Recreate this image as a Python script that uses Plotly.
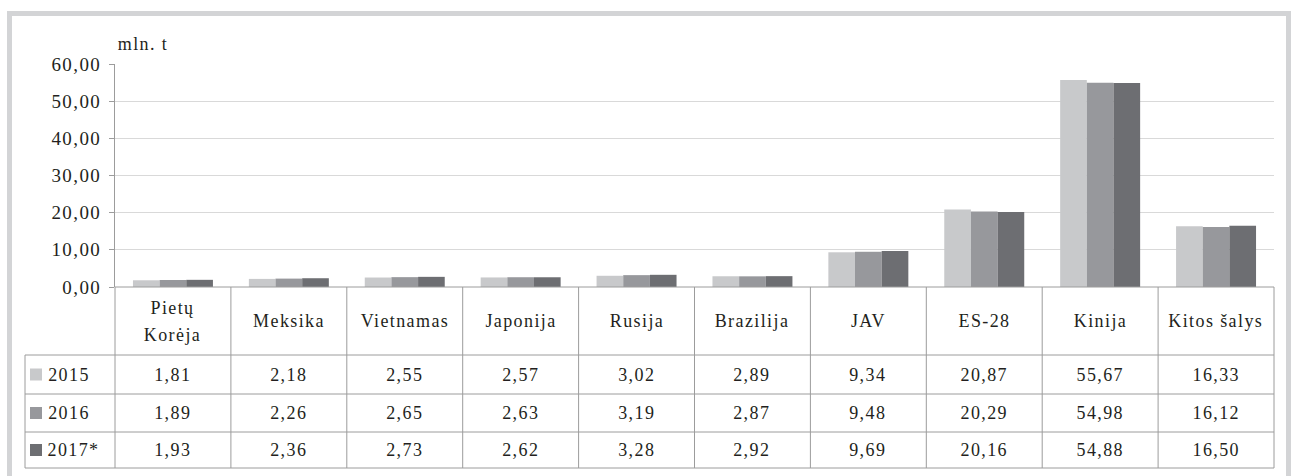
import plotly.graph_objects as go

categories = ["Pietų Korėja", "Meksika", "Vietnamas", "Japonija", "Rusija",
              "Brazilija", "JAV", "ES-28", "Kinija", "Kitos šalys"]
header_lines = [["Pietų", "Korėja"], ["Meksika"], ["Vietnamas"], ["Japonija"], ["Rusija"],
                ["Brazilija"], ["JAV"], ["ES-28"], ["Kinija"], ["Kitos šalys"]]
series_names = ["2015", "2016", "2017*"]
v2015 = [1.81, 2.18, 2.55, 2.57, 3.02, 2.89, 9.34, 20.87, 55.67, 16.33]
v2016 = [1.89, 2.26, 2.65, 2.63, 3.19, 2.87, 9.48, 20.29, 54.98, 16.12]
v2017 = [1.93, 2.36, 2.73, 2.62, 3.28, 2.92, 9.69, 20.16, 54.88, 16.50]
colors = ["#c8c9cb", "#97989c", "#6d6e72"]
y_ticks = [0, 10, 20, 30, 40, 50, 60]

W, H = 1291, 476
L, R, T, B = 115, 1274, 64, 287
FONT = "'Liberation Serif', 'Times New Roman', Times, serif"
TXT = "#231f20"
LINE = "#9c9c9c"


def py(p):
    return (B - p) / (B - T)


def px(p):
    return (p - L) / (R - L)


def fmt(v):
    return f"{v:.2f}".replace(".", ",")


fig = go.Figure()
for name, vals, col in zip(series_names, [v2015, v2016, v2017], colors):
    fig.add_trace(go.Bar(x=categories, y=vals, name=name, marker_color=col,
                         marker_line_width=0, showlegend=False))

shapes = []
annotations = []

# outer frame
shapes.append(dict(type="rect", xref="paper", yref="paper",
                   x0=px(9.5), x1=px(1288.5), y0=py(13.5), y1=py(500),
                   line=dict(color="#d3d4d6", width=5), fillcolor="rgba(0,0,0,0)",
                   layer="below"))

row_edges = [287, 355, 394, 432, 468]
legend_left = 25
col_w = (R - L) / 10

for i in range(11):
    xp = L + i * col_w
    shapes.append(dict(type="line", xref="paper", yref="paper",
                       x0=px(xp), x1=px(xp), y0=py(row_edges[0]), y1=py(row_edges[-1]),
                       line=dict(color=LINE, width=1)))
shapes.append(dict(type="line", xref="paper", yref="paper",
                   x0=px(legend_left), x1=px(legend_left), y0=py(row_edges[1]), y1=py(row_edges[-1]),
                   line=dict(color=LINE, width=1)))
shapes.append(dict(type="line", xref="paper", yref="paper",
                   x0=px(L), x1=px(R), y0=py(row_edges[0]), y1=py(row_edges[0]),
                   line=dict(color=LINE, width=1)))
for r in row_edges[1:]:
    shapes.append(dict(type="line", xref="paper", yref="paper",
                       x0=px(legend_left), x1=px(R), y0=py(r), y1=py(r),
                       line=dict(color=LINE, width=1)))

head_mid = (row_edges[0] + row_edges[1]) / 2
line_gap = 27
for cat, lines in zip(categories, header_lines):
    n = len(lines)
    for k, txt in enumerate(lines):
        yc = head_mid + (k - (n - 1) / 2) * line_gap
        annotations.append(dict(x=cat, xref="x", y=py(yc), yref="paper",
                                text=txt, showarrow=False, xanchor="center", yanchor="middle",
                                font=dict(family=FONT, size=18, color=TXT)))

for ri, (name, vals, col) in enumerate(zip(series_names, [v2015, v2016, v2017], colors)):
    top, bot = row_edges[ri + 1], row_edges[ri + 2]
    cy = (top + bot) / 2
    for cat, v in zip(categories, vals):
        annotations.append(dict(x=cat, xref="x", y=py(cy), yref="paper", text=fmt(v),
                                showarrow=False, xanchor="center", yanchor="middle",
                                font=dict(family=FONT, size=18, color=TXT)))
    shapes.append(dict(type="rect", xref="paper", yref="paper",
                       x0=px(30), x1=px(42), y0=py(cy + 6), y1=py(cy - 6),
                       fillcolor=col, line=dict(width=0)))
    annotations.append(dict(x=px(49), xref="paper", y=py(cy), yref="paper", text=name,
                            showarrow=False, xanchor="left", yanchor="middle",
                            font=dict(family=FONT, size=18, color=TXT)))

annotations.append(dict(x=px(120), xref="paper", y=py(44), yref="paper", text="mln. t",
                        showarrow=False, xanchor="left", yanchor="middle",
                        font=dict(family=FONT, size=18, color=TXT)))

fig.update_layout(
    width=W, height=H,
    margin=dict(l=L, r=W - R, t=T, b=H - B, pad=0),
    paper_bgcolor="white", plot_bgcolor="white",
    barmode="group", bargap=0.31, bargroupgap=0,
    separators=", ",
    shapes=shapes, annotations=annotations,
    xaxis=dict(showticklabels=False, showgrid=False, zeroline=False, ticks="",
               showline=False, range=[-0.5, 9.5]),
    yaxis=dict(range=[0, 60], tickvals=y_ticks, tickformat=".2f",
               showgrid=True, gridcolor="#d9d9d9", gridwidth=1, zeroline=False,
               showline=True, linecolor=LINE, linewidth=1,
               ticks="outside", ticklen=5, tickcolor=LINE,
               ticklabelstandoff=4,
               tickfont=dict(family=FONT, size=19, color=TXT)),
)

post = (
    "document.body.style.margin='0';document.body.style.overflow='hidden';"
    "document.querySelectorAll('.main-svg text').forEach(function(t){"
    "t.style.letterSpacing='1.4px';});"
)

fig.write_html("out.html", config={"displayModeBar": False}, post_script=post)
